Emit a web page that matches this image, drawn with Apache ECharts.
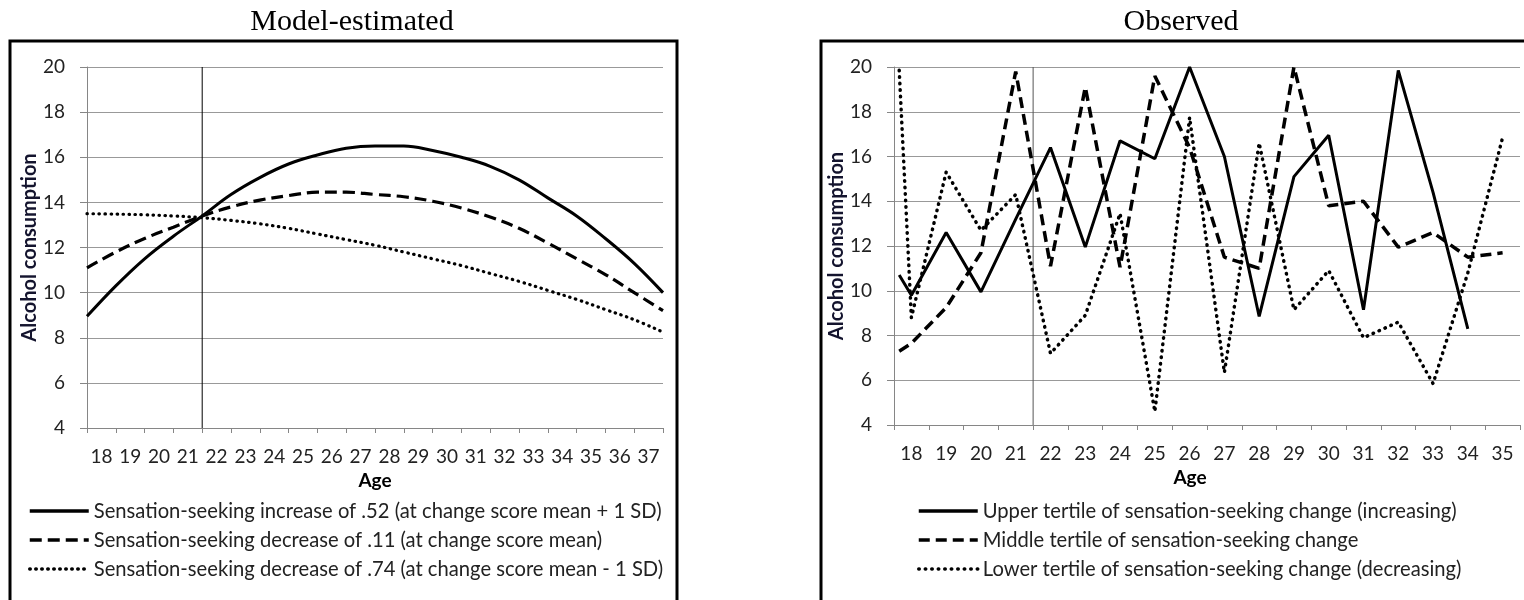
<!DOCTYPE html>
<html>
<head>
<meta charset="utf-8">
<script src="https://cdn.jsdelivr.net/npm/echarts@6/dist/echarts.min.js"></script>
<style>
html,body{margin:0;padding:0;background:#fff;}
#chart{width:1524px;height:600px;}
</style>
</head>
<body>
<div id="chart"></div>
<script>
// ---------- data ----------
const leftAgeLabels = ['18','19','20','21','22','23','24','25','26','27','28','29','30','31','32','33','34','35','36','37'];
const rightAgeLabels = ['18','19','20','21','22','23','24','25','26','27','28','29','30','31','32','33','34','35'];
const yTicks = [4, 6, 8, 10, 12, 14, 16, 18, 20];

// model-estimated curves, read at ages 17.5, 18.5, ... 37.5
const modelAges = [17.5,18.5,19.5,20.5,21.5,22.5,23.5,24.5,25.5,26.5,27.5,28.5,29.5,30.5,31.5,32.5,33.5,34.5,35.5,36.5,37.5];
const modelIncrease = [8.95,10.3,11.5,12.5,13.4,14.35,15.1,15.7,16.1,16.4,16.5,16.5,16.3,16.0,15.6,15.0,14.2,13.4,12.4,11.3,10.0];
const modelMean     = [11.1,11.8,12.4,12.9,13.4,13.8,14.1,14.3,14.45,14.45,14.35,14.25,14.05,13.75,13.35,12.85,12.2,11.5,10.8,10.0,9.2];
const modelDecrease = [13.5,13.48,13.45,13.4,13.32,13.2,13.05,12.85,12.6,12.35,12.1,11.8,11.5,11.2,10.85,10.5,10.1,9.7,9.25,8.8,8.25];

// observed tertiles, first point at the left edge of the plot
const obsAges   = [17.65,18,19,20,21,22,23,24,25,26,27,28,29,30,31,32,33,34,35];
const obsUpper  = [10.7,9.8,12.6,9.95,13.2,16.4,11.95,16.7,15.9,20.0,16.0,8.85,15.1,16.95,9.15,19.85,14.4,8.3];
const obsMiddle = [7.3,7.65,9.25,11.7,19.8,11.1,19.1,11.05,19.6,16.4,11.5,11.0,20.0,13.8,14.0,11.95,12.6,11.5,11.7];
const obsLower  = [19.85,8.8,15.3,12.7,14.3,7.2,8.9,13.45,4.6,17.75,6.35,16.6,9.15,10.9,7.9,8.6,5.85,10.8,16.85];

const refAge = 21.5;
const refLine = [[refAge, 4], [refAge, 20]];

const leftNames = [
  'Sensation-seeking increase of .52 (at change score mean + 1 SD)',
  'Sensation-seeking decrease of .11 (at change score mean)',
  'Sensation-seeking decrease of .74 (at change score mean - 1 SD)'
];
const rightNames = [
  'Upper tertile of sensation-seeking change (increasing)',
  'Middle tertile of sensation-seeking change',
  'Lower tertile of sensation-seeking change (decreasing)'
];

// ---------- helpers ----------
const pairs = (xs, ys) => ys.map((v, i) => [xs[i], v]);
const FONT = 'Lato, "Open Sans", "Noto Sans", sans-serif';
const SERIF = '"Liberation Serif", "Times New Roman", serif';
const GRID_C = '#999999';
const AXIS_C = '#868686';

function catAxis(idx, labels, namePad) {
  return {
    type: 'category', gridIndex: idx, data: labels, boundaryGap: true,
    axisLine: {show: true, lineStyle: {color: AXIS_C, width: 1}},
    axisTick: {show: true, length: 5, lineStyle: {color: AXIS_C}},
    axisLabel: {color: '#222', fontFamily: FONT, fontSize: 19, margin: 19, interval: 0},
    splitLine: {show: false},
    name: 'Age', nameLocation: 'middle', nameGap: 36,
    nameTextStyle: {color: '#000', fontFamily: FONT, fontWeight: 'bold', fontSize: 19, padding: namePad}
  };
}
function valXAxis(idx, min, max) {
  return {type: 'value', gridIndex: idx, min: min, max: max, show: false, splitLine: {show: false}};
}
function yAxis(idx) {
  return {
    type: 'value', gridIndex: idx, min: 4, max: 20, interval: 2,
    axisLine: {show: true, lineStyle: {color: AXIS_C, width: 1}},
    axisTick: {show: true, length: 7, lineStyle: {color: AXIS_C}},
    axisLabel: {color: '#222', fontFamily: FONT, fontSize: 19, margin: 22,
      formatter: v => (yTicks.indexOf(v) >= 0 ? String(v) : '')},
    splitLine: {show: true, lineStyle: {color: GRID_C, width: 1}},
    name: 'Alcohol consumption', nameLocation: 'middle', nameGap: 46,
    nameTextStyle: {color: '#14142e', fontFamily: FONT, fontWeight: 'bold', fontSize: 20}
  };
}
function lineSeries(name, xi, yi, data, lineType, width, smooth, cap) {
  return {
    name: name, type: 'line', xAxisIndex: xi, yAxisIndex: yi, data: data,
    symbol: 'none', smooth: smooth, silent: true,
    lineStyle: {color: '#000', width: width, type: lineType, cap: cap || 'butt'},
    itemStyle: {color: '#000'},
    emphasis: {disabled: true}
  };
}
function legend(left, top, names) {
  return {
    orient: 'vertical', left: left, top: top, itemWidth: 59, itemHeight: 14, itemGap: 9,
    selectedMode: false, data: names,
    itemStyle: {opacity: 0},
    lineStyle: {width: 3.5},
    textStyle: {color: '#222', fontFamily: FONT, fontSize: 20.2}
  };
}

const chart = echarts.init(document.getElementById('chart'), null, {renderer: 'canvas'});
chart.setOption({
  animation: false,
  backgroundColor: '#fff',
  title: [
    {text: 'Model-estimated', left: 347, top: 2, textAlign: 'center',
     textStyle: {fontFamily: SERIF, fontWeight: 'normal', fontSize: 30, color: '#000'}},
    {text: 'Observed', left: 1176, top: 2, textAlign: 'center',
     textStyle: {fontFamily: SERIF, fontWeight: 'normal', fontSize: 30, color: '#000'}}
  ],
  grid: [
    {left: 87, top: 67, width: 576, height: 361},
    {left: 894, top: 67, width: 626, height: 358}
  ],
  xAxis: [
    catAxis(0, leftAgeLabels, 0),
    valXAxis(0, 17.5, 37.5),
    catAxis(1, rightAgeLabels, [0, 34, 0, 0]),
    valXAxis(1, 17.5, 35.5)
  ],
  yAxis: [yAxis(0), yAxis(1)],
  legend: [legend(23, 496, leftNames), legend(912, 496, rightNames)],
  graphic: [
    {type: 'rect', shape: {x: 10, y: 41, width: 667, height: 600}, style: {fill: 'none', stroke: '#000', lineWidth: 3}, silent: true},
    {type: 'rect', shape: {x: 821, y: 41, width: 720, height: 600}, style: {fill: 'none', stroke: '#000', lineWidth: 3}, silent: true}
  ],
  series: [
    lineSeries('refL', 1, 0, refLine, 'solid', 1, false),
    lineSeries(leftNames[0], 1, 0, pairs(modelAges, modelIncrease), 'solid', 3, 0.4),
    lineSeries(leftNames[1], 1, 0, pairs(modelAges, modelMean), [12, 6], 3.2, 0.4),
    lineSeries(leftNames[2], 1, 0, pairs(modelAges, modelDecrease), [0.5, 5.5], 3.2, 0.4, 'round'),
    Object.assign(lineSeries('refR', 3, 1, refLine, 'solid', 1, false), {lineStyle: {color: '#555', width: 1}}),
    lineSeries(rightNames[0], 3, 1, pairs(obsAges, obsUpper), 'solid', 3, false),
    lineSeries(rightNames[1], 3, 1, pairs(obsAges, obsMiddle), [11, 6], 3.5, false),
    lineSeries(rightNames[2], 3, 1, pairs(obsAges, obsLower), [0.5, 6], 3.5, false, 'round')
  ]
});
</script>
</body>
</html>
